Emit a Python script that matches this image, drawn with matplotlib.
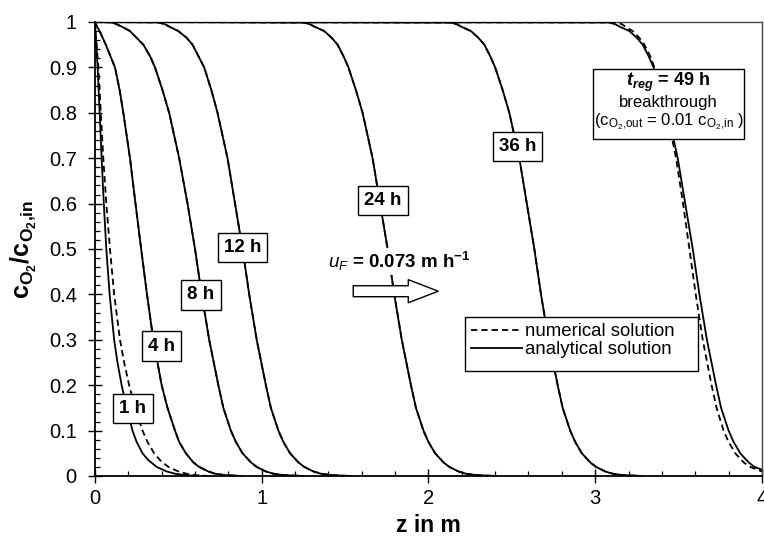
import matplotlib
matplotlib.use('Agg')
import matplotlib.pyplot as plt
from matplotlib.lines import Line2D
from matplotlib.patches import Rectangle, FancyArrowPatch

plt.rcParams.update({
    'font.family': ['Liberation Sans', 'DejaVu Sans'],
    'mathtext.fontset': 'custom',
    'mathtext.rm': 'Liberation Sans',
    'mathtext.it': 'Liberation Sans:italic',
    'mathtext.bf': 'Liberation Sans:bold',
    'mathtext.bfit': 'Liberation Sans:italic:bold',
    'mathtext.sf': 'Liberation Sans',
})

# ---------------- data ----------------
# 1 h
c_1h = [1.0, 0.97, 0.95, 0.9, 0.85, 0.8, 0.7, 0.6, 0.5, 0.4, 0.3, 0.25, 0.2, 0.15, 0.1,
        0.075, 0.05, 0.035, 0.02, 0.01, 0.005, 0.002, 0.0]
z_1h_ana = [0.0, 0.004, 0.008, 0.016, 0.022, 0.028, 0.04, 0.053, 0.068, 0.088, 0.115, 0.135,
            0.16, 0.19, 0.225, 0.25, 0.285, 0.32, 0.37, 0.43, 0.48, 0.54, 0.62]
z_1h_num = [0.0, 0.005, 0.01, 0.02, 0.028, 0.035, 0.05, 0.068, 0.09, 0.115, 0.15, 0.175,
            0.205, 0.24, 0.285, 0.315, 0.355, 0.39, 0.44, 0.5, 0.55, 0.6, 0.68]

# 4 h
c_4h = [1.0, 0.99, 0.98, 0.95, 0.9, 0.85, 0.8, 0.7, 0.6, 0.5, 0.4, 0.3, 0.2, 0.15, 0.1,
        0.075, 0.05, 0.03, 0.02, 0.01, 0.005, 0.002, 0.0]
z_4h = [0.0, 0.012, 0.028, 0.065, 0.12, 0.148, 0.17, 0.21, 0.243, 0.277, 0.312, 0.35, 0.4,
        0.435, 0.48, 0.505, 0.545, 0.59, 0.625, 0.68, 0.72, 0.78, 0.88]

# common concentration levels for the later profiles
c_lev = [1.0, 0.999, 0.995, 0.99, 0.98, 0.965, 0.95, 0.925, 0.9, 0.85, 0.8, 0.7, 0.6, 0.5,
         0.4, 0.3, 0.2, 0.15, 0.1, 0.075, 0.05, 0.03, 0.02, 0.01, 0.005, 0.002, 0.0]
z_8h = [0.0, 0.1, 0.13, 0.16, 0.21, 0.25, 0.29, 0.33, 0.36, 0.405, 0.445, 0.505, 0.555, 0.6,
        0.64, 0.685, 0.74, 0.77, 0.815, 0.845, 0.885, 0.935, 0.97, 1.025, 1.07, 1.13, 1.25]
z_12h = [0.0, 0.38, 0.42, 0.445, 0.5, 0.55, 0.585, 0.62, 0.655, 0.698, 0.735, 0.795, 0.84,
         0.885, 0.925, 0.97, 1.025, 1.055, 1.1, 1.13, 1.17, 1.22, 1.255, 1.31, 1.355, 1.415, 1.53]
z_24h = [0.0, 1.25, 1.29, 1.315, 1.375, 1.42, 1.455, 1.49, 1.52, 1.565, 1.605, 1.665, 1.71,
         1.755, 1.795, 1.84, 1.895, 1.925, 1.97, 2.0, 2.04, 2.09, 2.125, 2.18, 2.225, 2.285, 2.4]
z_36h = [0.0, 2.13, 2.17, 2.195, 2.255, 2.3, 2.335, 2.37, 2.4, 2.445, 2.485, 2.545, 2.59,
         2.635, 2.675, 2.72, 2.775, 2.805, 2.85, 2.88, 2.92, 2.97, 3.005, 3.06, 3.105, 3.165, 3.28]

# 49 h (breakthrough)
c_49h_ana = [1.0, 0.999, 0.995, 0.99, 0.98, 0.965, 0.95, 0.925, 0.9, 0.85, 0.8, 0.7, 0.6, 0.5,
             0.4, 0.3, 0.2, 0.15, 0.1, 0.075, 0.05, 0.03, 0.02, 0.014]
z_49h_ana = [0.0, 3.08, 3.12, 3.145, 3.205, 3.25, 3.285, 3.32, 3.35, 3.395, 3.435, 3.495, 3.54,
             3.585, 3.625, 3.67, 3.725, 3.755, 3.8, 3.83, 3.87, 3.92, 3.955, 4.0]
c_49h_num = [1.0, 0.999, 0.995, 0.99, 0.98, 0.965, 0.95, 0.925, 0.9, 0.85, 0.8, 0.7, 0.6, 0.5,
             0.4, 0.3, 0.2, 0.15, 0.1, 0.075, 0.05, 0.03, 0.02, 0.01]
z_49h_num = [0.0, 3.13, 3.16, 3.18, 3.225, 3.265, 3.295, 3.33, 3.355, 3.395, 3.43, 3.485, 3.527,
             3.565, 3.603, 3.645, 3.698, 3.728, 3.77, 3.8, 3.84, 3.89, 3.93, 4.0]

time_labels = ['1 h', '4 h', '8 h', '12 h', '24 h', '36 h']
label_z = [0.228, 0.399, 0.636, 0.885, 1.726, 2.534]
label_c = [0.149, 0.286, 0.399, 0.503, 0.607, 0.726]

x_ticks = [0, 1, 2, 3, 4]
y_ticks = [0, 0.1, 0.2, 0.3, 0.4, 0.5, 0.6, 0.7, 0.8, 0.9, 1.0]
y_ticklabels = ['0', '0.1', '0.2', '0.3', '0.4', '0.5', '0.6', '0.7', '0.8', '0.9', '1']

# ---------------- figure ----------------
fig = plt.figure(figsize=(7.64, 5.39), dpi=100)
ax = fig.add_axes([0.1243, 0.1169, 0.8730, 0.8423])

LW = 1.3
DASH = (0, (3.5, 2.2))

ana = [(z_1h_ana, c_1h), (z_4h, c_4h), (z_8h, c_lev), (z_12h, c_lev),
       (z_24h, c_lev), (z_36h, c_lev), (z_49h_ana, c_49h_ana)]
num = [(z_1h_num, c_1h), (z_4h, c_4h), (z_8h, c_lev), (z_12h, c_lev),
       (z_24h, c_lev), (z_36h, c_lev), (z_49h_num, c_49h_num)]

for z, c in ana:
    ax.plot(z, c, color='black', lw=LW, solid_joinstyle='round', zorder=3)
for z, c in num:
    ax.plot(z, c, color='black', lw=LW, linestyle=DASH, zorder=3)

ax.set_xlim(0, 4)
ax.set_ylim(0, 1)
ax.set_xticks(x_ticks)
ax.set_xticklabels([str(t) for t in x_ticks])
ax.set_yticks(y_ticks)
ax.set_yticklabels(y_ticklabels)
ax.set_xticks([i * 0.2 for i in range(21)], minor=True)
ax.set_yticks([i * 0.02 for i in range(51)], minor=True)

ax.tick_params(which='major', direction='inout', length=9.6, width=1.0, labelsize=14.5, colors='black')
ax.tick_params(which='minor', direction='in', length=3.6, width=0.9)
ax.tick_params(axis='y', which='major', pad=8.3)
ax.tick_params(axis='x', which='major', pad=4.5)

for s in ['left', 'bottom']:
    ax.spines[s].set_linewidth(1.3)
    ax.spines[s].set_color('black')
for s in ['top', 'right']:
    ax.spines[s].set_linewidth(1.0)
    ax.spines[s].set_color('#444444')

ax.set_xlabel('z in m', fontsize=16.5, fontweight='bold')
ax.xaxis.set_label_coords(0.5, -0.083)
ax.set_ylabel(r'$\mathbf{c_{O_2}/c_{O_2{,}in}}$', fontsize=18)
ax.yaxis.set_label_coords(-0.084, 0.5)

# time labels
for t, zx, cy in zip(time_labels, label_z, label_c):
    ax.text(zx, cy, t, fontsize=13.5, fontweight='bold', ha='center', va='center', zorder=6,
            bbox=dict(boxstyle='square,pad=0.33', fc='white', ec='black', lw=1.0))

# breakthrough box
ax.add_patch(Rectangle((2.988, 0.742), 0.906, 0.154, fc='white', ec='black', lw=1.0, zorder=5))
ax.text(3.441, 0.8666, r'$\mathbfit{t_{reg}}\mathbf{\,=\,49\ h}$', fontsize=13,
        ha='center', va='center', zorder=6)
ax.text(3.441, 0.8226, 'breakthrough', fontsize=12, ha='center', va='center', zorder=6)
ax.text(3.441, 0.7809, r'(c$_{\mathrm{O_2{,}out}}$ = 0.01 c$_{\mathrm{O_2{,}in}}$ )',
        fontsize=12, ha='center', va='center', zorder=6)

# flow velocity text + arrow
ax.text(1.823, 0.473, r'$\mathit{u_F}$ = 0.073 m h$^{\mathbf{-1}}$', fontsize=13.5,
        fontweight='bold', ha='center', va='center', zorder=6,
        bbox=dict(boxstyle='square,pad=0.1', fc='white', ec='none'))
arrow = FancyArrowPatch((1.549, 0.407), (2.059, 0.407),
                        arrowstyle='simple,head_length=21.6,head_width=16.6,tail_width=7.9',
                        mutation_scale=1, shrinkA=0, shrinkB=0,
                        fc='white', ec='black', lw=1.0, zorder=6)
ax.add_patch(arrow)

# legend
handles = [Line2D([], [], color='black', lw=LW, linestyle=DASH),
           Line2D([], [], color='black', lw=LW)]
leg = ax.legend(handles, ['numerical solution', 'analytical solution'],
                loc='upper left', bbox_to_anchor=(0.5547, 0.3501), borderaxespad=0,
                frameon=False, fontsize=13.4, handlelength=2.7, handletextpad=0.18,
                labelspacing=0.05, borderpad=0.34)
leg.set_zorder(8)
ax.add_patch(Rectangle((0.5547, 0.2314), 0.3489, 0.1187, transform=ax.transAxes,
                       fc='white', ec='black', lw=1.0, zorder=7))

fig.savefig('out.png', dpi=100)
